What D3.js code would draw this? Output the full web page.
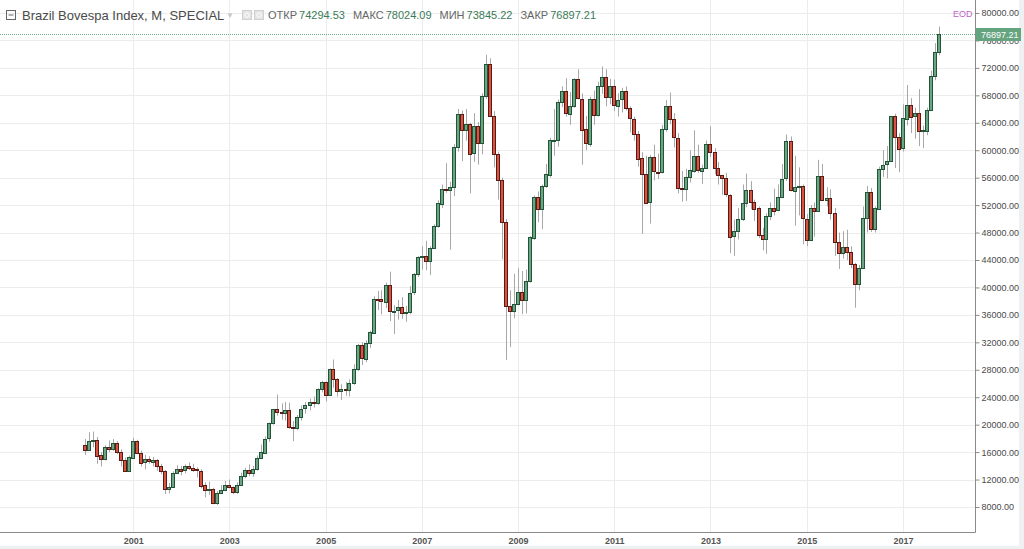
<!DOCTYPE html>
<html>
<head>
<meta charset="utf-8">
<script src="https://cdn.jsdelivr.net/npm/d3@7"></script>
<style>
  body { margin: 0; background: #eef0f2; }
  svg { display: block; }
</style>
</head>
<body>
<div id="chart"></div>
<script>
// monthly candles, Jan 2000 .. Oct 2017
const firstMonth = new Date(2000, 0, 1);
const endMonth = new Date(2017, 10, 1);

const open = [
  17091, 16388, 17660, 17820, 15538, 14957, 16727, 16436, 17330, 15985, 14849, 13290,
  15259, 17672, 15891, 14438, 14929, 14649, 14880, 13970, 13249, 10633, 10975, 12981,
  13577, 13350, 13995, 13750, 13470, 13300, 11140, 10400, 10600, 8623, 10100, 10500,
  11268, 10941, 10280, 11273, 12556, 13421, 12972, 13577, 15175, 16010, 17982, 20183,
  22236, 21851, 21755, 22142, 19607, 19545, 21149, 22337, 22803, 23245, 23052, 25128,
  26196, 24351, 28139, 26610, 24843, 25207, 25051, 26041, 28042, 31583, 29619, 31916,
  33456, 38382, 38296, 37952, 40365, 36530, 36631, 37077, 36232, 36449, 39262, 41931,
  44473, 44642, 43892, 45804, 48956, 52268, 54392, 54182, 54637, 60465, 65317, 63006,
  63886, 59490, 63489, 60968, 67868, 72593, 65017, 59505, 55680, 49541, 37256, 36596,
  37550, 39300, 38183, 40926, 47289, 53197, 51465, 54766, 56488, 61518, 61545, 67044,
  68588, 65402, 66503, 70372, 67530, 63047, 60936, 67515, 65145, 69430, 70673, 67705,
  69305, 66575, 67383, 68587, 66133, 64620, 62404, 58823, 56495, 52324, 58955, 56875,
  56754, 63072, 66469, 64511, 61820, 54490, 54355, 56097, 57061, 59176, 57068, 57475,
  60952, 59761, 57424, 56352, 55910, 53506, 47457, 48234, 50008, 52338, 54256, 52482,
  51507, 47639, 47094, 50415, 51627, 51239, 53168, 55829, 61288, 54116, 54629, 54724,
  50007, 46908, 51583, 51150, 56229, 52760, 53081, 50865, 46626, 45059, 45869, 45120,
  43350, 40406, 42793, 50055, 53911, 48471, 51527, 57308, 57901, 58367, 64925, 61906,
  60227, 64671, 66662, 64984, 65403, 62711, 62900, 65920, 70835, 74294.53
];
const high = [
  17900, 18900, 19000, 18200, 16000, 17000, 17700, 17900, 17600, 16400, 15200, 15500,
  18100, 17800, 16200, 15600, 15400, 15300, 15000, 14300, 13400, 11500, 13200, 14100,
  14000, 14200, 14500, 14300, 13800, 13500, 11600, 11700, 10800, 10300, 11200, 11800,
  12000, 11000, 11600, 13000, 13700, 14200, 14000, 15500, 17100, 18300, 20300, 22300,
  24400, 23100, 23300, 23200, 20500, 21400, 22800, 23300, 23800, 24100, 25300, 26400,
  26300, 28200, 29500, 26800, 25900, 26200, 26600, 28800, 31800, 32000, 32300, 33700,
  38700, 39500, 39600, 40700, 42300, 37400, 38200, 38600, 37300, 40200, 42100, 44600,
  46000, 46800, 46000, 49200, 52700, 55000, 58100, 55400, 60900, 66000, 65800, 66000,
  64000, 65400, 64100, 68300, 73920, 73400, 65700, 59800, 56000, 50000, 39600, 42000,
  42800, 42400, 42600, 47500, 53400, 54000, 55000, 58000, 61800, 66000, 67400, 69300,
  70500, 68500, 70500, 71800, 68300, 65000, 67800, 68700, 70000, 72200, 71800, 70400,
  70300, 68300, 69100, 69300, 66400, 64900, 62800, 59700, 59200, 59300, 60800, 59500,
  63700, 67300, 68400, 65400, 62500, 57000, 57300, 60000, 62900, 60800, 57900, 61400,
  63500, 60300, 58300, 56400, 56700, 53600, 49900, 51600, 55000, 56600, 55500, 52800,
  51800, 48700, 50800, 52400, 54400, 55000, 58000, 62300, 62000, 59200, 57500, 55000,
  50700, 52000, 52400, 58600, 58000, 54600, 54300, 51600, 48000, 48200, 48400, 46000,
  43600, 43300, 51800, 54800, 54500, 51800, 57600, 60000, 60600, 65000, 65300, 62500,
  66700, 69500, 67600, 66200, 68900, 63600, 66200, 71600, 75600, 78024.09
];
const low = [
  15600, 16200, 16700, 14300, 13900, 14800, 16000, 16200, 15700, 13900, 13100, 13100,
  15200, 15700, 13900, 13500, 14300, 13900, 13300, 12800, 9900, 10000, 10900, 12800,
  12600, 12900, 13400, 13100, 12300, 10700, 9400, 9800, 8400, 8300, 9900, 10300,
  10700, 9900, 9900, 11100, 12200, 12500, 12400, 13300, 15000, 15800, 17500, 20000,
  21300, 20700, 20600, 19400, 17600, 19200, 20600, 21600, 22100, 22500, 22900, 24700,
  23400, 24300, 25400, 24100, 23600, 24200, 24100, 25800, 27800, 28700, 29100, 31200,
  33200, 36700, 36100, 37000, 35100, 33200, 35300, 35400, 35000, 36100, 38900, 41500,
  42600, 42500, 41800, 45700, 48700, 51600, 53800, 45500, 53300, 59800, 58400, 61400,
  53700, 58300, 57900, 59400, 67500, 64900, 57500, 52800, 44100, 29435, 31300, 35500,
  37400, 36100, 36200, 40700, 46900, 49500, 48500, 54500, 56000, 59200, 60500, 66300,
  64900, 63700, 66200, 67400, 57900, 60000, 60500, 63700, 64900, 68200, 66400, 66700,
  65700, 64900, 65500, 65800, 62600, 61400, 57600, 47800, 52200, 49300, 55600, 55800,
  56600, 62700, 63800, 60400, 53700, 52500, 52600, 55300, 56700, 56700, 55100, 57300,
  59000, 56500, 55000, 53500, 53200, 45000, 44600, 47000, 49700, 51700, 51400, 49700,
  47200, 45400, 44900, 49800, 50500, 51100, 53000, 55500, 54000, 49000, 50500, 46300,
  46000, 46800, 47400, 51000, 52600, 51800, 49900, 44600, 42700, 44200, 44000, 42800,
  37046, 39600, 42800, 48000, 48100, 48000, 51300, 56100, 55900, 58300, 57400, 56800,
  59800, 63600, 62500, 61700, 60600, 60300, 62200, 65700, 70200, 73845.22
];
const close = [
  16388, 17660, 17820, 15538, 14957, 16727, 16436, 17330, 15985, 14849, 13290, 15259,
  17672, 15891, 14438, 14929, 14649, 14880, 13970, 13249, 10633, 10975, 12981, 13577,
  13350, 13995, 13750, 13470, 13300, 11140, 10400, 10600, 8623, 10100, 10500, 11268,
  10941, 10280, 11273, 12556, 13421, 12972, 13577, 15175, 16010, 17982, 20183, 22236,
  21851, 21755, 22142, 19607, 19545, 21149, 22337, 22803, 23245, 23052, 25128, 26196,
  24351, 28139, 26610, 24843, 25207, 25051, 26041, 28042, 31583, 29619, 31916, 33456,
  38382, 38296, 37952, 40365, 36530, 36631, 37077, 36232, 36449, 39262, 41931, 44473,
  44642, 43892, 45804, 48956, 52268, 54392, 54182, 54637, 60465, 65317, 63006, 63886,
  59490, 63489, 60968, 67868, 72593, 65017, 59505, 55680, 49541, 37256, 36596, 37550,
  39300, 38183, 40926, 47289, 53197, 51465, 54766, 56488, 61518, 61545, 67044, 68588,
  65402, 66503, 70372, 67530, 63047, 60936, 67515, 65145, 69430, 70673, 67705, 69305,
  66575, 67383, 68587, 66133, 64620, 62404, 58823, 56495, 52324, 58955, 56875, 56754,
  63072, 66469, 64511, 61820, 54490, 54355, 56097, 57061, 59176, 57068, 57475, 60952,
  59761, 57424, 56352, 55910, 53506, 47457, 48234, 50008, 52338, 54256, 52482, 51507,
  47639, 47094, 50415, 51627, 51239, 53168, 55829, 61288, 54116, 54629, 54724, 50007,
  46908, 51583, 51150, 56229, 52760, 53081, 50865, 46626, 45059, 45869, 45120, 43350,
  40406, 42793, 50055, 53911, 48471, 51527, 57308, 57901, 58367, 64925, 61906, 60227,
  64671, 66662, 64984, 65403, 62711, 62900, 65920, 70835, 74294, 76897.21
];

const yearTicks = [2001, 2003, 2005, 2007, 2009, 2011, 2013, 2015, 2017];
const priceTicks = [8000, 12000, 16000, 20000, 24000, 28000, 32000, 36000, 40000,
  44000, 48000, 52000, 56000, 60000, 64000, 68000, 72000, 76000, 80000];
const title = "Brazil Bovespa Index, M, SPECIAL";
const ohlcLabels = ["ОТКР", "МАКС", "МИН", "ЗАКР"];

const width = 1024, height = 549;
const plotRight = 975, plotBottom = 532;

const svg = d3.select("#chart").append("svg")
  .attr("width", width)
  .attr("height", height)
  .style("font-family", "'Liberation Sans', Arial, sans-serif");

// white panel
svg.append("rect")
  .attr("x", 0).attr("y", 0)
  .attr("width", 1019).attr("height", 546)
  .attr("fill", "#fff");

const months = d3.timeMonth.range(firstMonth, endMonth);
const candles = months.map((d, i) => ({
  date: d, o: open[i], h: high[i], l: low[i], c: close[i]
}));

const x = d3.scaleTime()
  .domain([new Date(2000, 0, 1), new Date(2018, 0, 1)])
  .range([85, 951]);

const y = d3.scaleLinear()
  .domain([8000, 80000])
  .range([507, 13]);

// grid
svg.append("g")
  .selectAll("line")
  .data(priceTicks)
  .join("line")
  .attr("x1", 0).attr("x2", plotRight)
  .attr("y1", d => Math.round(y(d)) + 0.5)
  .attr("y2", d => Math.round(y(d)) + 0.5)
  .attr("stroke", "#ececec");

svg.append("g")
  .selectAll("line")
  .data(yearTicks)
  .join("line")
  .attr("x1", d => Math.round(x(new Date(d, 0, 1))) + 0.5)
  .attr("x2", d => Math.round(x(new Date(d, 0, 1))) + 0.5)
  .attr("y1", 0).attr("y2", plotBottom)
  .attr("stroke", "#ececec");

// last price dotted line
const last = candles[candles.length - 1];
svg.append("line")
  .attr("x1", 0).attr("x2", plotRight)
  .attr("y1", Math.round(y(last.c)) + 0.5)
  .attr("y2", Math.round(y(last.c)) + 0.5)
  .attr("stroke", "#6fae8a")
  .attr("stroke-dasharray", "1,1");

// candles
const cg = svg.append("g");
const cx = d => Math.round(x(d.date));

cg.selectAll("line.wick")
  .data(candles)
  .join("line")
  .attr("class", "wick")
  .attr("x1", d => cx(d) + 0.5)
  .attr("x2", d => cx(d) + 0.5)
  .attr("y1", d => y(d.h))
  .attr("y2", d => y(d.l))
  .attr("stroke", "#a8a8a8");

cg.selectAll("rect.body")
  .data(candles)
  .join("rect")
  .attr("class", "body")
  .attr("x", d => cx(d) - 1.5)
  .attr("width", 3)
  .attr("y", d => Math.round(y(Math.max(d.o, d.c))) + 0.5)
  .attr("height", d => Math.max(1, Math.round(Math.abs(y(d.o) - y(d.c)))))
  .attr("fill", d => d.c >= d.o ? "#6ba583" : "#d75442")
  .attr("stroke", d => d.c >= d.o ? "#225437" : "#5b1a13")
  .attr("stroke-width", 1);

// axes
const yAxis = d3.axisRight(y)
  .tickValues(priceTicks)
  .tickFormat(d3.format(".2f"))
  .tickSize(4);

const yg = svg.append("g")
  .attr("transform", `translate(${plotRight + 0.5},0)`)
  .call(yAxis);
yg.select(".domain").attr("d", `M0,0V${plotBottom + 0.5}`).attr("stroke", "#8a8a8a");
yg.selectAll(".tick line").attr("stroke", "#8a8a8a");
yg.selectAll(".tick text")
  .attr("x", 6)
  .attr("fill", "#4a4a4a")
  .style("font-size", "9px");

const xAxis = d3.axisBottom(x)
  .tickValues(yearTicks.map(yr => new Date(yr, 0, 1)))
  .tickFormat(d3.timeFormat("%Y"))
  .tickSize(0);

const xg = svg.append("g")
  .attr("transform", `translate(0,${plotBottom + 0.5})`)
  .call(xAxis);
xg.select(".domain").attr("d", `M0,0H${plotRight + 0.5}`).attr("stroke", "#8a8a8a");
xg.selectAll(".tick text")
  .attr("y", 5)
  .attr("fill", "#555")
  .style("font-size", "9px")
  .style("font-weight", "bold");

// last price label (covers the tick label below it, as in the source)
svg.append("rect")
  .attr("x", plotRight + 1).attr("y", Math.round(y(last.c)) - 6)
  .attr("width", 45).attr("height", 13)
  .attr("fill", "#66a37f");
svg.append("text")
  .attr("x", plotRight + 6).attr("y", Math.round(y(last.c)) + 4)
  .attr("fill", "#fff")
  .style("font-size", "9px")
  .text(d3.format(".2f")(last.c));

svg.append("text")
  .attr("x", 953).attr("y", 17)
  .attr("fill", "#c262c9")
  .style("font-size", "9px")
  .text("EOD");

// header
const hdr = svg.append("g");
hdr.append("rect")
  .attr("x", 6.5).attr("y", 10.5).attr("width", 9).attr("height", 9)
  .attr("fill", "none").attr("stroke", "#666");
hdr.append("line")
  .attr("x1", 8.5).attr("x2", 13.5).attr("y1", 15).attr("y2", 15)
  .attr("stroke", "#666");
hdr.append("text")
  .attr("x", 22).attr("y", 19.5)
  .attr("fill", "#4a4a4a")
  .style("font-size", "13px")
  .text(title);
hdr.append("text")
  .attr("x", 226).attr("y", 18)
  .attr("fill", "#c8c8c8")
  .style("font-size", "8px")
  .text("▼");
[242, 254].forEach(px => {
  hdr.append("rect")
    .attr("x", px + 0.5).attr("y", 10.5).attr("width", 9).attr("height", 9)
    .attr("fill", "#e4e4e4").attr("stroke", "#d0d0d0");
  hdr.append("circle")
    .attr("cx", px + 5).attr("cy", 15).attr("r", 2.2)
    .attr("fill", "none").attr("stroke", "#fff");
});

// OHLC readout, laid out one after another
const ohlcValues = [last.o, last.h, last.l, last.c];
let cursor = 268;
ohlcLabels.forEach((lab, i) => {
  const t = hdr.append("text")
    .attr("x", cursor).attr("y", 19)
    .style("font-size", "11px");
  t.append("tspan").attr("fill", "#666").text(lab);
  t.append("tspan").attr("dx", 2).attr("fill", "#3b7a58").text(d3.format(".2f")(ohlcValues[i]));
  cursor += t.node().getComputedTextLength() + 2 + 8;
});
</script>
</body>
</html>
